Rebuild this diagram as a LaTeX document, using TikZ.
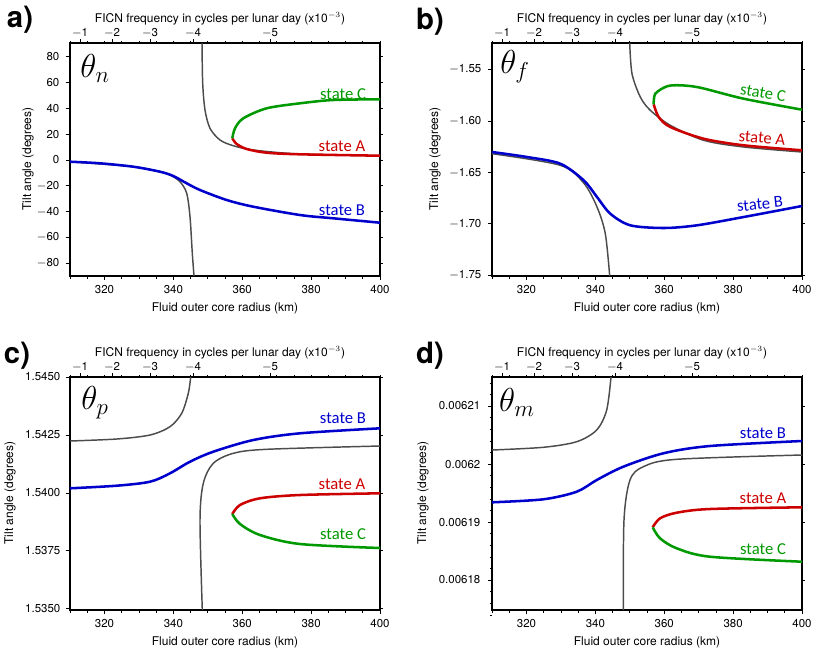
\documentclass[tikz,border=0pt]{standalone}
\usepackage{fontspec}
\setmainfont{TeX Gyre Heros}
\newfontfamily\calib{Carlito}
\begin{document}
\begin{tikzpicture}[x=0.75pt,y=-0.75pt,
  tk/.style={font=\fontsize{8.6}{10}\selectfont},
  axl/.style={font=\fontsize{9}{11}\selectfont},
  st/.style={font=\calib\fontsize{12.5}{14}\selectfont},
  plet/.style={font=\bfseries\fontsize{22}{24}\selectfont},
  theta/.style={font=\fontsize{26}{28}\selectfont},
  gcurve/.style={draw=black!70,line width=1.1pt},
  bcurve/.style={draw=blue!80!black,line width=1.9pt},
  rcurve/.style={draw=red!80!black,line width=1.9pt},
  ccurve/.style={draw=green!60!black,line width=1.9pt},
  frm/.style={draw=black,line width=1.1pt}]
\useasboundingbox (0,0) rectangle (820,654);
\newcommand\myaxes[3]{%
  % #1 name prefix
  \draw[frm] (0,0) rectangle (310,233);
  \foreach \k in {0,...,18}{\draw[line width=0.5pt] ({17.222*\k},233) -- ({17.222*\k},235.5);
     \draw[line width=0.5pt] ({17.222*\k},0) -- ({17.222*\k},-2);}
  \foreach \v/\xx in {320/34.44,340/103.33,360/172.22,380/241.11,400/310}{
     \draw[line width=0.7pt] (\xx,233) -- (\xx,237);
     \node[tk] (#1x\v) at (\xx,247) {\v};}
  \foreach \v/\xx in {1/10,2/42,3/80,4/123,5/200}{
     \draw[line width=0.7pt] (\xx,0) -- (\xx,-4);
     \node[tk] (#1t\v) at (\xx,-10) {$-$\v};}
  \node[axl] (#1title) at (150,-24) {FICN frequency in cycles per lunar day (x10$^{-3}$)};
  \node[axl] (#1xl) at (155,265) {Fluid outer core radius (km)};
}
% ---------- a
\begin{scope}[shift={(70,43)}]
\myaxes{a}{}{}
\foreach \v in {-80,-60,...,80}{\draw[line width=0.7pt] (0,{117-1.29*\v}) -- (-4,{117-1.29*\v});
  \draw[line width=0.7pt] (310,{117-1.29*\v}) -- (313,{117-1.29*\v});
  \node[tk,anchor=east] at (-6,{117-1.29*\v}) {\ifnum\v<0 $-$\fi\pgfmathparse{int(abs(\v))}\pgfmathresult};}
\node[axl,rotate=90] (ayl) at (-42,116) {Tilt angle (degrees)};
\draw[gcurve] plot[smooth] coordinates {(0,118.7) (63.3,123.7) (90,128.7) (100,132) (110,138.7) (116.7,150.3) (120,173.7) (122.3,210.3) (124,233)};
\draw[gcurve] plot[smooth] coordinates {(132,0) (132.7,40.3) (135,67) (140,85.3) (150,97) (163.3,102.7) (183.3,107) (230,111) (310,112.7)};
\draw[bcurve] plot[smooth] coordinates {(0,118.7) (30,120.3) (63.3,123.7) (90,128.7) (103.3,133) (116.7,140.3) (130,147) (156.7,157) (183.3,163.7) (230,172) (263.3,175.3) (310,179.7)};
\draw[rcurve] plot[smooth] coordinates {(162.3,95.3) (166.7,101) (176.7,106) (196.7,109.7) (230,111.3) (310,112.7)};
\draw[ccurve] plot[smooth] coordinates {(162.3,95.3) (165,85.3) (173.3,75.3) (196.7,65.3) (230,60.3) (263.3,57) (310,56.3)};
\end{scope}
\node[plet] (la) at (20,20) {a)};
\node[theta] (tha) at (95,68) {$\theta_n$};
\node[st,text=green!60!black] (sca) at (343,94) {state C};
\node[st,text=red!80!black] (saa) at (342,146) {state A};
\node[st,text=blue!80!black] (sba) at (342,210) {state B};
% ---------- b
\begin{scope}[shift={(492,43)}]
\myaxes{b}{}{}
\foreach \yy/\lab in {26.3/1.55,78/1.60,129.7/1.65,180.7/1.70,232.3/1.75}{\draw[line width=0.7pt] (0,\yy) -- (-4,\yy);
  \draw[line width=0.7pt] (310,\yy) -- (313,\yy);
  \node[tk,anchor=east] at (-6,\yy) {$-$\lab};}
\node[axl,rotate=90] (byl) at (-57,116) {Tilt angle (degrees)};
\draw[gcurve] plot[smooth] coordinates {(0,110.7) (68.3,122.3) (91.7,140) (105,164) (113.3,190.7) (117.7,233)};
\draw[gcurve] plot[smooth] coordinates {(137.7,0) (140,30.7) (148.3,54) (158.3,67.3) (178.3,82.3) (211.7,97.3) (251.7,104) (310,109)};
\draw[bcurve] plot[smooth] coordinates {(0,109) (35,114) (68.3,120.7) (91.7,137.3) (105,154) (118.3,170.7) (138.3,182.3) (171.7,185) (205,182.3) (251.7,174) (310,163)};
\draw[rcurve] plot[smooth] coordinates {(161.7,61.3) (166.7,74) (178.3,84) (211.7,95.7) (251.7,102.3) (310,107.3)};
\draw[ccurve] plot[smooth] coordinates {(161.7,61.3) (163.3,50.7) (175,43.3) (188.3,42.3) (208.3,44.7) (251.7,55.7) (310,66.7)};
\end{scope}
\node[plet] (lb) at (430,22) {b)};
\node[theta] (thb) at (515,67) {$\theta_f$};
\node[st,text=green!60!black,rotate=-9] (scb) at (763,93) {state C};
\node[st,text=red!80!black,rotate=-5] (sab) at (762,138) {state A};
\node[st,text=blue!80!black,rotate=6] (sbb) at (760,204) {state B};
% ---------- c
\begin{scope}[shift={(70,377)}]
\myaxes{c}{}{}
\foreach \yy/\lab in {0/1.5450,58/1.5425,116/1.5400,173.7/1.5375,231.3/1.5350}{\draw[line width=0.7pt] (0,\yy) -- (-4,\yy);
  \draw[line width=0.7pt] (310,\yy) -- (313,\yy);
  \node[tk,anchor=east] at (-5,\yy) {\lab};}
\node[axl,rotate=90] (cyl) at (-60,116) {Tilt angle (degrees)};
\draw[gcurve] plot[smooth] coordinates {(0,64) (46.7,62) (80,58) (100,49.7) (111.7,36.3) (118.3,16.3) (120.7,0)};
\draw[gcurve] plot[smooth] coordinates {(132.3,233) (130,143) (133.3,106.3) (143.3,86.3) (163.3,76.3) (196.7,72.3) (310,69)};
\draw[bcurve] plot[smooth] coordinates {(0,111.3) (46.7,108.7) (80,104.7) (100,96.3) (120,84.7) (143.3,74.7) (183.3,63) (230,56.3) (310,51.3)};
\draw[rcurve] plot[smooth] coordinates {(162.3,137) (170,128) (190,121.3) (230,118) (310,116.3)};
\draw[ccurve] plot[smooth] coordinates {(162.3,137) (170,147) (190,158) (230,167) (310,171)};
\end{scope}
\node[plet] (lc) at (17,356) {c)};
\node[theta] (thc) at (95,403) {$\theta_p$};
\node[st,text=blue!80!black] (sbc) at (343,418) {state B};
\node[st,text=red!80!black] (sac) at (342,484) {state A};
\node[st,text=green!60!black] (scc) at (343,534) {state C};
% ---------- d
\begin{scope}[shift={(492,377)}]
\myaxes{d}{}{}
\foreach \k in {0,...,20}{\draw[line width=0.4pt] (0,{29+11.6*(\k-2)}) -- (-2,{29+11.6*(\k-2)});}
\foreach \yy/\lab in {29/0.00621,87.3/0.0062,145.3/0.00619,203/0.00618}{\draw[line width=0.7pt] (0,\yy) -- (-4,\yy);
  \draw[line width=0.7pt] (310,\yy) -- (313,\yy);
  \node[tk,anchor=east] at (-7,\yy) {\lab};}
\node[axl,rotate=90] (dyl) at (-69,116) {Tilt angle (degrees)};
\draw[gcurve] plot[smooth] coordinates {(0,73) (51.3,70.3) (84.7,64.7) (104.7,53) (114.7,33) (119,0)};
\draw[gcurve] plot[smooth] coordinates {(131.3,233) (132,143) (138,103) (151.3,89.7) (184.7,82.3) (310,78)};
\draw[bcurve] plot[smooth] coordinates {(0,125.3) (51.3,122.3) (84.7,114.7) (104.7,103) (131.3,89.7) (171.3,76.3) (218,69) (310,64)};
\draw[rcurve] plot[smooth] coordinates {(160.7,150.3) (168,141.3) (184.7,135.7) (218,132) (310,130.3)};
\draw[ccurve] plot[smooth] coordinates {(160.7,150.3) (168,161.3) (184.7,171.3) (218,179.7) (310,184.7)};
\end{scope}
\node[plet] (ld) at (430,356) {d)};
\node[theta] (thd) at (517,402) {$\theta_m$};
\node[st,text=blue!80!black] (sbd) at (763,433) {state B};
\node[st,text=red!80!black] (sad) at (763,498) {state A};
\node[st,text=green!60!black] (scd) at (763,549) {state C};
\end{tikzpicture}
\end{document}
